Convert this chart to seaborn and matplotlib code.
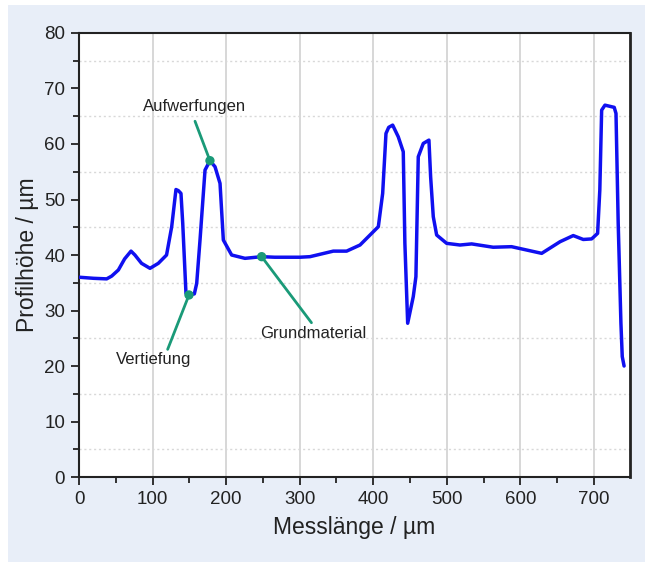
import matplotlib
matplotlib.use('Agg')
import matplotlib.pyplot as plt
import matplotlib.patches as mpatches
from matplotlib.ticker import MultipleLocator
import pandas as pd
import seaborn as sns

# Profile data
messlaenge = [0, 20, 37.6, 44.4, 53.5, 62, 70.7, 76, 85, 96.5, 107.8, 119, 126,
              131.8, 135, 138.6, 141, 145.4, 149.5, 156.8, 160, 164.5, 171.3,
              178, 184.9, 191.7, 196.2, 207.5, 225.6, 248.3, 266, 300.4, 314,
              345.7, 363.8, 382, 406.9, 412.8, 417.3, 421, 426.4, 434, 440.8,
              443, 446.8, 454.4, 458, 461.2, 468, 475.7, 478, 481.6, 486.2,
              499.8, 517.9, 533.8, 563, 588, 629, 654, 671.9, 685.5, 696.9, 705,
              708, 710.5, 715, 727.6, 730, 733, 736.7, 738.5, 741]
profilhoehe = [36.0, 35.8, 35.7, 36.2, 37.3, 39.3, 40.7, 40.0, 38.5, 37.6, 38.5,
               40.0, 45.1, 51.8, 51.6, 51.1, 45.7, 33.1, 32.8, 33.0, 34.9, 42.7,
               55.3, 57.0, 55.9, 52.9, 42.7, 40.0, 39.4, 39.7, 39.6, 39.6, 39.7,
               40.7, 40.7, 41.8, 45.1, 51.1, 61.9, 63.0, 63.4, 61.3, 58.6, 42.1,
               27.7, 32.5, 36.1, 57.7, 60.1, 60.7, 54.1, 46.9, 43.6, 42.1, 41.8,
               42.0, 41.4, 41.5, 40.3, 42.4, 43.5, 42.8, 42.9, 43.9, 51.7, 66.1,
               67.0, 66.6, 65.5, 45.7, 27.7, 21.7, 20.0]

# Annotations: label, marked point on the curve
labels = ['Aufwerfungen', 'Vertiefung', 'Grundmaterial']
mark_x = [178, 149.5, 248.3]
mark_y = [57.0, 32.8, 39.7]

df = pd.DataFrame({'x': messlaenge, 'y': profilhoehe})

sns.set_style('white')
plt.rcParams['font.family'] = ['Liberation Sans', 'DejaVu Sans']

fig = plt.figure(figsize=(6.45, 5.62), dpi=100)
fig.patch.set_facecolor('white')
fig.patches.append(mpatches.Rectangle((8 / 645, 0), 1, (562 - 5) / 562,
                                      transform=fig.transFigure,
                                      facecolor='#e8eef8', edgecolor='none',
                                      zorder=-10))
ax = fig.add_axes([0.1225, 0.1512, 0.8542, 0.7901])
ax.set_facecolor('white')

sns.lineplot(data=df, x='x', y='y', ax=ax, color='#1010f0', linewidth=2.5,
             estimator=None, sort=False, zorder=3)

ax.set_xlim(0, 749)
ax.set_ylim(0, 80)
ax.xaxis.set_major_locator(MultipleLocator(100))
ax.xaxis.set_minor_locator(MultipleLocator(50))
ax.yaxis.set_major_locator(MultipleLocator(10))
ax.yaxis.set_minor_locator(MultipleLocator(5))
ax.grid(False)
for v in range(100, 800, 100):
  ax.axvline(v, color='#d4d4d4', linewidth=1.3, zorder=1)
for h in range(5, 80, 10):
  ax.axhline(h, color='#d8d8d8', linewidth=1.0, linestyle=(0, (1.5, 2)), zorder=1)

ax.tick_params(axis='both', which='major', direction='out', length=6, width=1.3,
               color='#222222', labelsize=13.5, labelcolor='#222222', pad=4,
               bottom=True, left=True)
ax.tick_params(axis='both', which='minor', direction='out', length=4, width=1.3,
               color='#222222', bottom=True, left=True)
for s in ax.spines.values():
  s.set_visible(True)
  s.set_color('#222222')
  s.set_linewidth(1.5)
ax.spines['right'].set_linewidth(2)

ax.set_xlabel('Messlänge / µm', fontsize=16.5, color='#222222', labelpad=6)
ax.set_ylabel('Profilhöhe / µm', fontsize=16.5, color='#222222', labelpad=4)

# annotation lines (start near the label, end on the marked point)
green = '#1a9a78'
line_start = [(157.7, 64.1), (120.5, 23.0), (316, 27.8)]
text_pos = [(157.7, 66.8), (102, 21.1), (319, 25.9)]
for lab, mx, my, (sx, sy), (tx, ty) in zip(labels, mark_x, mark_y, line_start, text_pos):
  ax.plot([sx, mx], [sy, my], color=green, linewidth=2, zorder=4)
  ax.text(tx, ty, lab, fontsize=12, color='#222222', ha='center', va='center', zorder=5)
sns.scatterplot(x=mark_x, y=mark_y, ax=ax, color=green, s=45, edgecolor='none', zorder=6)

fig.savefig('out.png', dpi=100, facecolor=fig.get_facecolor())
